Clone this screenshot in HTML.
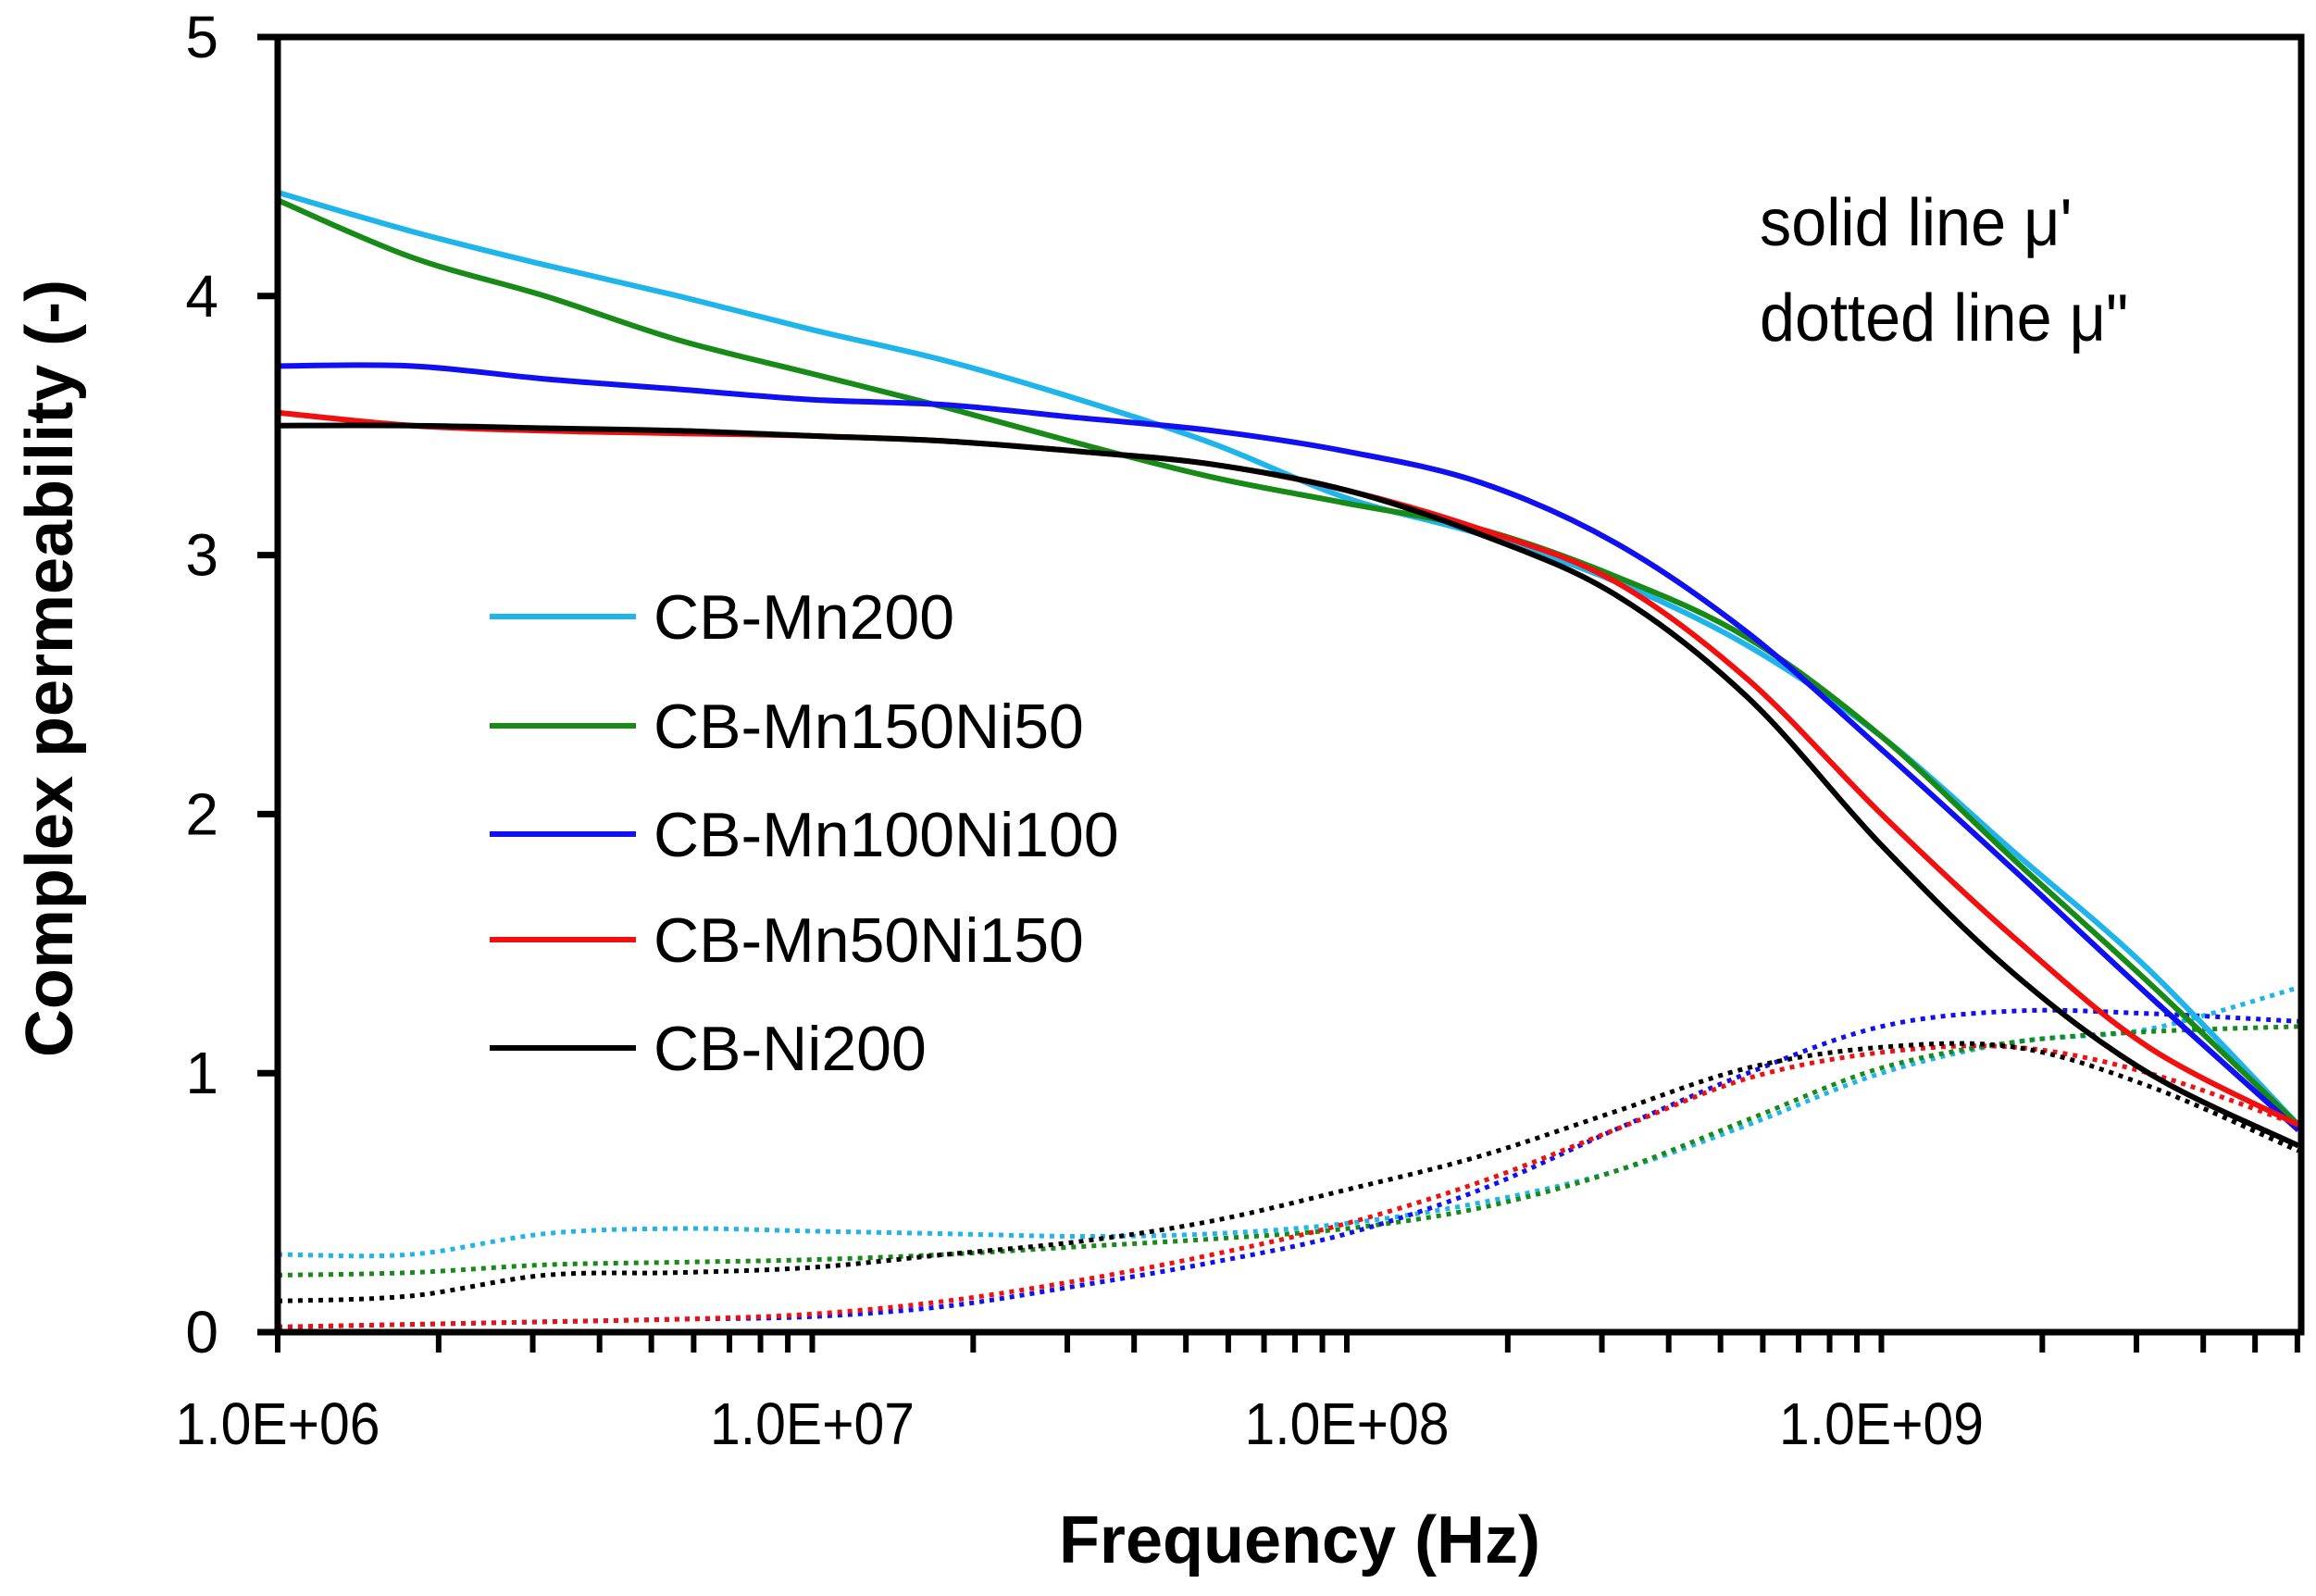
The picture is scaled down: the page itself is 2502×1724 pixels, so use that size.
<!DOCTYPE html>
<html><head><meta charset="utf-8"><style>
html,body{margin:0;padding:0;background:#fff;}
svg{display:block;}
text{font-family:"Liberation Sans",sans-serif;fill:#000;}
</style></head><body>
<svg id="chart" width="2502" height="1724" viewBox="0 0 2502 1724" xmlns="http://www.w3.org/2000/svg">
<g id="plot"></g>
<g id="axes"></g>
<text x="0" y="0" transform="translate(78,722) rotate(-90)" text-anchor="middle" font-size="72" font-weight="bold">Complex permeability (-)</text>
<text x="1404" y="1688" text-anchor="middle" font-size="72" font-weight="bold">Frequency (Hz)</text>
<text x="1901" y="265" font-size="72" transform="translate(1901,0) scale(0.95,1) translate(-1901,0)">solid line μ'</text>
<text x="1901" y="368" font-size="72" transform="translate(1901,0) scale(0.95,1) translate(-1901,0)">dotted line μ"</text>
<g id="legend"></g>
</svg>
<script>
const logF = [6,6.25,6.5,6.75,7,7.25,7.5,7.75,8,8.25,8.5,8.75,9,9.25,9.5,9.78];
const seriesNames = ["CB-Mn200","CB-Mn150Ni50","CB-Mn100Ni100","CB-Mn50Ni150","CB-Ni200"];
const seriesColors = ["#1fb4ea","#178a17","#1010f0","#f01010","#000000"];
const muReal_Mn200 = [4.4,4.25,4.12,4.0,3.87,3.75,3.6,3.43,3.22,3.08,2.9,2.65,2.3,1.85,1.4,0.8];
const muReal_Mn150Ni50 = [4.37,4.15,4.0,3.83,3.7,3.57,3.43,3.3,3.2,3.1,2.92,2.68,2.3,1.82,1.35,0.8];
const muReal_Mn100Ni100 = [3.73,3.73,3.68,3.64,3.6,3.58,3.53,3.48,3.4,3.28,3.05,2.7,2.25,1.78,1.3,0.78];
const muReal_Mn50Ni150 = [3.55,3.5,3.48,3.47,3.46,3.44,3.4,3.35,3.25,3.1,2.9,2.52,2.0,1.52,1.1,0.8];
const muReal_Ni200 = [3.5,3.5,3.49,3.48,3.46,3.44,3.4,3.35,3.25,3.08,2.85,2.45,1.88,1.38,1.0,0.72];
const muImag_Mn200 = [0.3,0.3,0.38,0.4,0.39,0.38,0.37,0.38,0.42,0.5,0.62,0.8,1.0,1.12,1.17,1.33];
const muImag_Mn150Ni50 = [0.22,0.23,0.26,0.27,0.28,0.3,0.33,0.36,0.4,0.48,0.62,0.82,1.02,1.12,1.16,1.18];
const muImag_Mn100Ni100 = [0.02,0.03,0.04,0.05,0.06,0.1,0.18,0.27,0.38,0.55,0.78,1.0,1.18,1.24,1.23,1.2];
const muImag_Mn50Ni150 = [0.02,0.03,0.04,0.05,0.07,0.12,0.2,0.3,0.42,0.58,0.78,0.98,1.08,1.1,1.0,0.8];
const muImag_Ni200 = [0.12,0.14,0.22,0.23,0.25,0.3,0.35,0.43,0.55,0.68,0.85,1.02,1.1,1.1,0.95,0.7];
const yTicks = [0,1,2,3,4,5];
const xTickLabels = ["1.0E+06","1.0E+07","1.0E+08","1.0E+09"];
const xTickExp = [6,7,8,9];

const X0=300, DEC=577.5, XMIN=6, XMAX=6+(2486-300)/577.5, Y0=1439, YU=279.8;
const sx = l => X0 + (l-XMIN)*DEC;
const sy = v => Y0 - v*YU;
const NS="http://www.w3.org/2000/svg";
function mk(tag, attrs, parent){const e=document.createElementNS(NS,tag);for(const k in attrs)e.setAttribute(k,attrs[k]);parent.appendChild(e);return e;}
function pathFor(vals){
  const pts = logF.map((l,i)=>[sx(Math.min(l,XMAX)),sy(vals[i])]);
  let d=`M${pts[0][0]},${pts[0][1]}`;
  for(let i=0;i<pts.length-1;i++){
    const p0=pts[Math.max(0,i-1)],p1=pts[i],p2=pts[i+1],p3=pts[Math.min(pts.length-1,i+2)];
    const c1=[p1[0]+(p2[0]-p0[0])/6,p1[1]+(p2[1]-p0[1])/6];
    const c2=[p2[0]-(p3[0]-p1[0])/6,p2[1]-(p3[1]-p1[1])/6];
    d+=` C${c1[0]},${c1[1]} ${c2[0]},${c2[1]} ${p2[0]},${p2[1]}`;
  }
  return d;
}
const plot=document.getElementById('plot');
const reals=[muReal_Mn200,muReal_Mn150Ni50,muReal_Mn100Ni100,muReal_Mn50Ni150,muReal_Ni200];
const imags=[muImag_Mn200,muImag_Mn150Ni50,muImag_Mn100Ni100,muImag_Mn50Ni150,muImag_Ni200];
imags.forEach((v,i)=>{
  const p=mk('path',{d:pathFor(v),fill:'none',stroke:seriesColors[i],'stroke-width':5,'stroke-dasharray':'5 6'},plot);
  
  
});
reals.forEach((v,i)=>{
  const p=mk('path',{d:pathFor(v),fill:'none',stroke:seriesColors[i],'stroke-width':6},plot);
  
  
});
const axes=document.getElementById('axes');
const frame=mk('rect',{x:X0,y:sy(5),width:2486-X0,height:Y0-sy(5),fill:'none',stroke:'#000','stroke-width':7},axes);


yTicks.forEach(t=>{
  const l=mk('line',{x1:X0-22,x2:X0,y1:sy(t),y2:sy(t),stroke:'#000','stroke-width':7},axes);
  
  
  const tx=mk('text',{x:236,y:sy(t)+22,'text-anchor':'end','font-size':64},axes);
  tx.textContent=t;
  
  
});
for(let e=6;e<=9;e++){for(let m=1;m<=9;m++){
  const l10=e+Math.log10(m); if(l10>XMAX)break;
  const x=sx(l10);
  const l=mk('line',{x1:x,x2:x,y1:Y0,y2:Y0+22,stroke:'#000','stroke-width':6},axes);
  
  
}}
xTickExp.forEach((e,i)=>{
  const tx=mk('text',{x:sx(e),y:1560,'text-anchor':'middle','font-size':64,transform:`translate(${sx(e)},0) scale(0.92,1) translate(${-sx(e)},0)`},axes);
  tx.textContent=xTickLabels[i];
  
  
});
const legend=document.getElementById('legend');
const legY=[666,784,901,1015,1132];
seriesNames.forEach((n,i)=>{
  const l=mk('line',{x1:529,x2:687,y1:legY[i],y2:legY[i],stroke:seriesColors[i],'stroke-width':6},legend);
  
  
  const t=mk('text',{x:706,y:legY[i]+24,'font-size':68},legend);
  t.textContent=n;
  
  
});
</script>
</body></html>
